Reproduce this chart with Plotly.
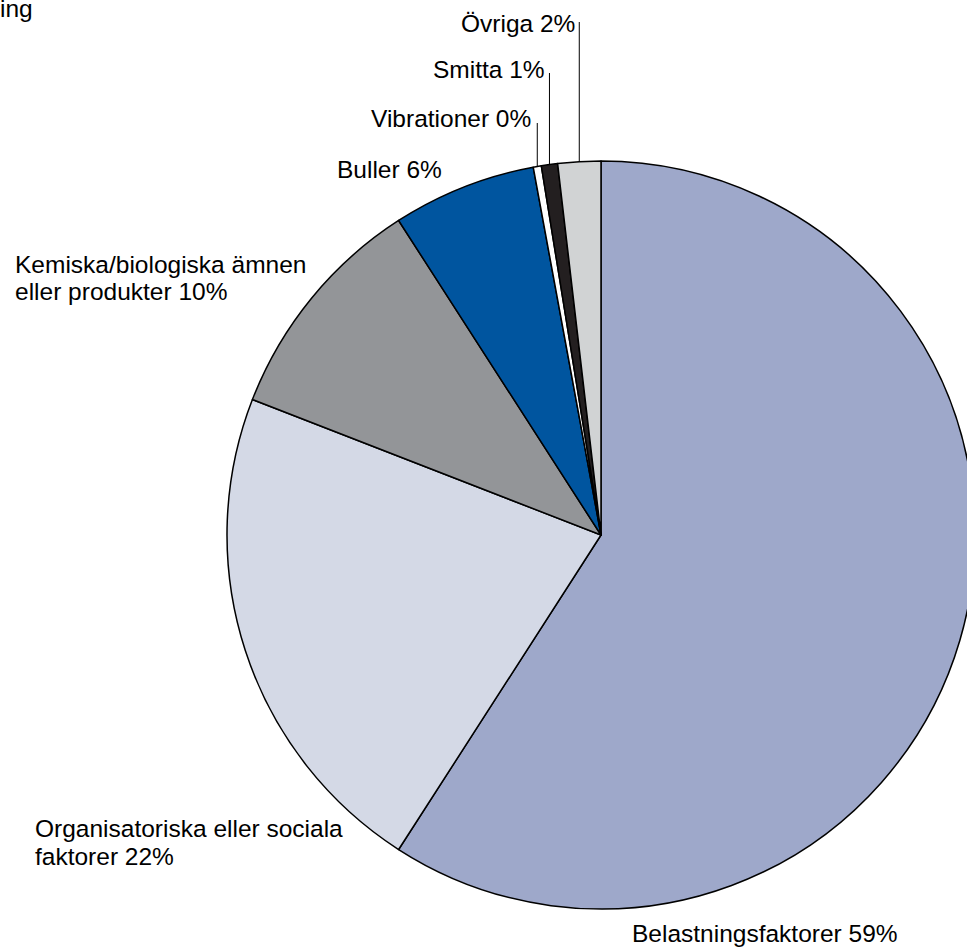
import math
import plotly.graph_objects as go

# slices, clockwise from 12 o'clock
labels = ["Belastningsfaktorer", "Organisatoriska eller sociala faktorer",
          "Kemiska/biologiska ämnen eller produkter", "Buller",
          "Vibrationer", "Smitta", "Övriga"]
values = [59.1, 21.8, 10.0, 6.2, 0.35, 0.7, 1.85]
shown_pct = ["59%", "22%", "10%", "6%", "0%", "1%", "2%"]
colors = ["#9ea8ca", "#d4d9e6", "#939598", "#00559f", "#ffffff", "#231f20", "#d1d3d4"]

W, H = 980, 949
cx, cy, r = 601, 535, 374


def px(x):
    return x / W


def py(y):
    return 1 - y / H


fig = go.Figure(go.Pie(
    labels=labels,
    values=values,
    sort=False,
    direction="clockwise",
    rotation=0,
    textinfo="none",
    hoverinfo="label+percent",
    marker=dict(colors=colors, line=dict(color="#000000", width=1.5)),
    domain=dict(x=[px(cx - r), px(cx + r)], y=[py(cy + r), py(cy - r)]),
    showlegend=False,
))

font = dict(family="Liberation Sans, Arial, sans-serif", size=24.5, color="#000000")

# (text lines, x, y of first line, line gap, anchor)
label_pos = [
    ([f"Belastningsfaktorer {shown_pct[0]}"], 630, 933, 0, "left"),
    (["Organisatoriska eller sociala", f"faktorer {shown_pct[1]}"], 33, 828, 28, "left"),
    (["Kemiska/biologiska ämnen", f"eller produkter {shown_pct[2]}"], 13, 265, 26, "left"),
    ([f"Buller {shown_pct[3]}"], 335, 169, 0, "left"),
    ([f"Vibrationer {shown_pct[4]}"], 533, 118, 0, "right"),
    ([f"Smitta {shown_pct[5]}"], 547, 69, 0, "right"),
    ([f"Övriga {shown_pct[6]}"], 577, 23, 0, "right"),
]

annotations = []
for lines, x, y, gap, anchor in label_pos:
    for i, line in enumerate(lines):
        annotations.append(dict(
            text=line, x=px(x), y=py(y + i * gap), xref="paper", yref="paper",
            xanchor=anchor, yanchor="middle", showarrow=False, font=font,
        ))

# cut-off title in the corner
annotations.append(dict(text="ing", x=px(35), y=py(8), xref="paper", yref="paper",
                        xanchor="right", yanchor="middle", showarrow=False, font=font))

# leader lines for the thin slices
total = sum(values)
starts = [sum(values[:i]) for i in range(len(values))]
line_tops = {4: 123, 5: 73, 6: 22}
shapes = []
for i, top in line_tops.items():
    mid = (starts[i] + values[i] / 2) / total * 2 * math.pi
    lx = cx + r * math.sin(mid)
    ly = cy - r * math.cos(mid)
    shapes.append(dict(type="line", xref="paper", yref="paper",
                       x0=px(lx), x1=px(lx), y0=py(top), y1=py(ly),
                       line=dict(color="#000000", width=1)))

fig.update_layout(
    width=W, height=H,
    margin=dict(l=0, r=0, t=0, b=0),
    paper_bgcolor="#ffffff",
    plot_bgcolor="#ffffff",
    annotations=annotations,
    shapes=shapes,
)

fig.write_html("out.html", config={"displayModeBar": False},
               post_script="document.body.style.margin='0';document.body.style.overflow='hidden';")
